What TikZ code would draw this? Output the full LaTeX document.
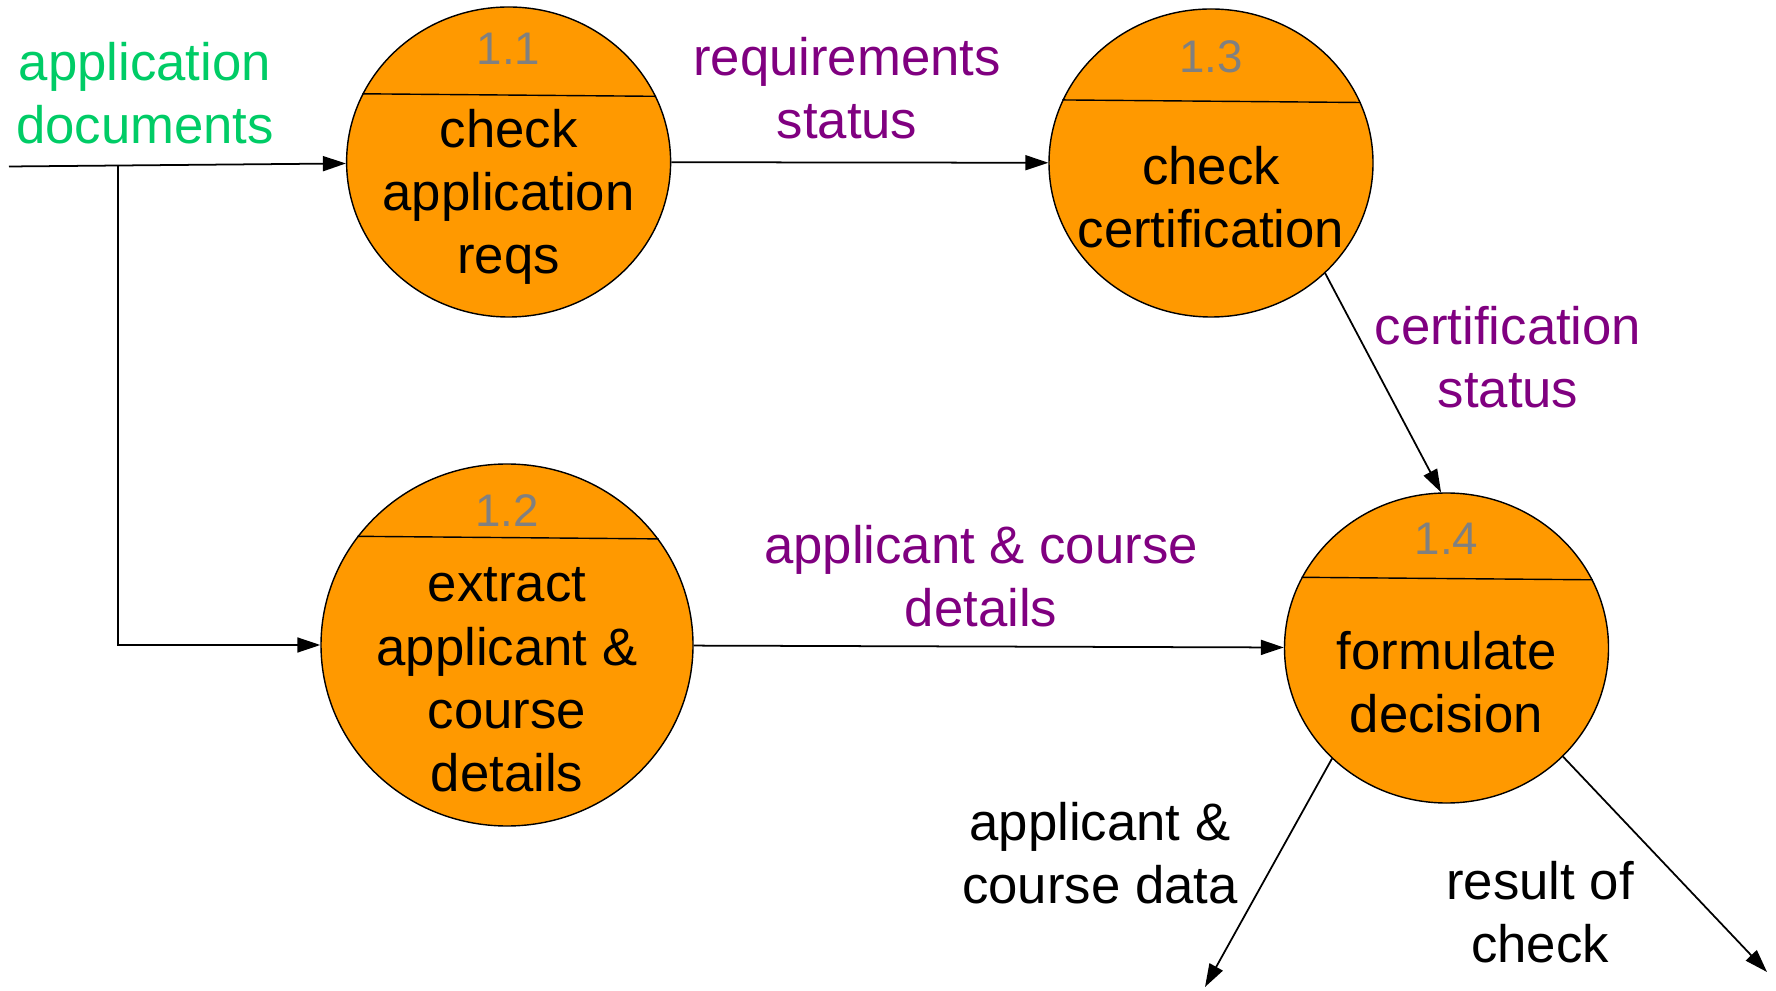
\documentclass[tikz,border=0pt]{standalone}
\usepackage{fontspec}
\setmainfont{Liberation Sans}
\usetikzlibrary{shapes.geometric,arrows.meta}
\definecolor{bubble}{RGB}{255,153,0}
\definecolor{docgreen}{RGB}{0,204,102}
\definecolor{flowpurple}{RGB}{128,0,128}
\definecolor{numgray}{RGB}{128,128,128}
\tikzset{
  proc/.style={ellipse, draw=black, fill=bubble, inner sep=0pt},
  num/.style={text=numgray, font=\fontsize{13}{15}\selectfont},
  ptext/.style={align=center, font=\fontsize{15}{18}\selectfont},
  flow/.style={-{Triangle[length=2.3mm,width=1.5mm]}, line width=0.5pt},
  lbl/.style={align=center, font=\fontsize{15}{18}\selectfont}
}
\begin{document}
\begin{tikzpicture}
\useasboundingbox (0,0) rectangle (17.76,9.9);

% processes
\node[proc, minimum width=3.24cm, minimum height=3.10cm] (p11) at (5.086,8.28) {};
\node[proc, minimum width=3.24cm, minimum height=3.08cm] (p13) at (12.11,8.27) {};
\node[proc, minimum width=3.72cm, minimum height=3.62cm] (p12) at (5.07,3.45) {};
\node[proc, minimum width=3.24cm, minimum height=3.10cm] (p14) at (14.465,3.42) {};

% dividers
\draw (p11.24.2) -- (p11.155.8);
\draw (p13.22.3) -- (p13.157.7);
\draw (p12.35.5) -- (p12.144.5);
\draw (p14.25.4) -- (p14.154.6);

% numbers
\node[num] (n11) at (5.086,9.41) {1.1};
\node[num] (n13) at (12.11,9.33) {1.3};
\node[num] (n12) at (5.07,4.79) {1.2};
\node[num] (n14) at (14.465,4.51) {1.4};

% process texts
\node[ptext] (t11) at (5.086,7.93) {check\\application\\reqs};
\node[ptext] (t13) at (12.11,7.93) {check\\certification};
\node[ptext] (t12) at (5.07,3.10) {extract\\applicant \&\\course\\details};
\node[ptext] (t14) at (14.465,3.08) {formulate\\decision};

% flows
\coordinate (src) at (0.09,8.235);
\coordinate (fork) at (1.18,8.24);
\coordinate (out1) at (12.05,0.03);
\coordinate (out2) at (17.67,0.18);
\draw[flow] (src) -- (p11);
\draw[flow] (fork) |- (p12.west);
\draw[flow] (p11) -- (p13);
\draw[flow] (p13.-44) -- (p14.92);
\draw[flow] (p12) -- (p14);
\draw[flow] (p14.-136) -- (out1);
\draw[flow] (p14.-43.6) -- (out2);

% labels
\node[lbl, text=docgreen] (ldocs) at (1.45,8.965) {application\\documents};
\node[lbl, text=flowpurple] (lreq) at (8.47,9.015) {requirements\\status};
\node[lbl, text=flowpurple] (lcert) at (15.08,6.33) {certification\\status};
\node[lbl, text=flowpurple] (ldet) at (9.81,4.135) {applicant \& course\\details};
\node[lbl] (ldata) at (11.00,1.37) {applicant \&\\course data};
\node[lbl] (lres) at (15.40,0.775) {result of\\check};

\end{tikzpicture}
\end{document}
